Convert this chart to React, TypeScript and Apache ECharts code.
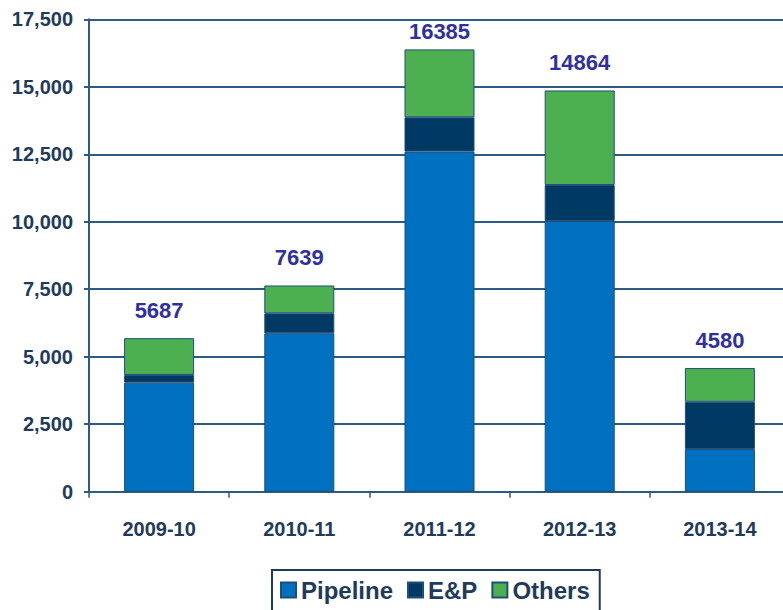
import React, { useEffect, useRef } from "react";
import * as echarts from "echarts";

const categories = ["2009-10", "2010-11", "2011-12", "2012-13", "2013-14"];
const pipeline = [4040, 5870, 12600, 10030, 1580];
const ep = [285, 740, 1270, 1330, 1750];
const others = [1362, 1029, 2515, 3504, 1250];
const totals = [5687, 7639, 16385, 14864, 4580];
const yTicks = [0, 2500, 5000, 7500, 10000, 12500, 15000, 17500];

const FONT = "'Liberation Sans', Arial, sans-serif";
const NAVY = "#1F3B5C";
const GRID = "#2F5B82";

export default function App() {
  const ref = useRef<HTMLDivElement>(null);
  useEffect(() => {
    if (!ref.current) return;
    const chart = echarts.init(ref.current, undefined, { renderer: "svg" });
    const border = { borderColor: "#1F4E79", borderWidth: 1 };
    chart.setOption({
      animation: false,
      backgroundColor: "#ffffff",
      grid: { left: 89, right: 10, top: 19.3, bottom: 118.3, containLabel: false },
      legend: {
        left: 272,
        top: 570,
        orient: "horizontal",
        icon: "rect",
        itemWidth: 15,
        itemHeight: 15,
        itemGap: 14,
        padding: [8, 10, 30, 8],
        borderColor: NAVY,
        borderWidth: 2,
        textStyle: { fontFamily: FONT, fontWeight: "bold", fontSize: 24, color: NAVY },
        data: ["Pipeline", "E&P", "Others"],
      },
      xAxis: {
        type: "category",
        data: categories,
        axisLine: { show: true, lineStyle: { color: GRID, width: 2 } },
        axisTick: { show: true, alignWithLabel: false, length: 6, lineStyle: { color: GRID, width: 1.5 } },
        axisLabel: { margin: 27, fontFamily: FONT, fontWeight: "bold", fontSize: 20, color: NAVY },
      },
      yAxis: {
        type: "value",
        min: 0,
        max: yTicks[yTicks.length - 1],
        interval: 2500,
        axisLine: { show: true, lineStyle: { color: GRID, width: 2 } },
        axisTick: { show: true, length: 5, lineStyle: { color: GRID, width: 2 } },
        splitLine: { show: true, lineStyle: { color: GRID, width: 2 } },
        axisLabel: {
          margin: 16,
          fontFamily: FONT,
          fontWeight: "bold",
          fontSize: 20,
          color: NAVY,
          formatter: (v: number) => v.toLocaleString("en-US"),
        },
      },
      series: [
        {
          name: "Pipeline",
          type: "bar",
          stack: "total",
          barWidth: 70,
          itemStyle: { color: "#0070C0", ...border },
          data: pipeline,
        },
        {
          name: "E&P",
          type: "bar",
          stack: "total",
          barWidth: 70,
          itemStyle: { color: "#003963", ...border },
          data: ep,
        },
        {
          name: "Others",
          type: "bar",
          stack: "total",
          barWidth: 70,
          itemStyle: { color: "#4CAF50", ...border },
          label: {
            show: true,
            position: "top",
            distance: 17,
            fontFamily: FONT,
            fontWeight: "bold",
            fontSize: 22,
            color: "#3030A0",
            formatter: (p: any) => String(totals[p.dataIndex]),
          },
          data: others.map((v, i) =>
            totals[i] === Math.max(...totals) ? { value: v, label: { distance: 7 } } : v
          ),
        },
      ],
    });
    return () => chart.dispose();
  }, []);
  return (
    <div
      style={{ position: "fixed", left: 0, top: 0, width: 783, height: 610, overflow: "hidden" }}
    >
      <div ref={ref} style={{ width: 800, height: 610 }} />
    </div>
  );
}
